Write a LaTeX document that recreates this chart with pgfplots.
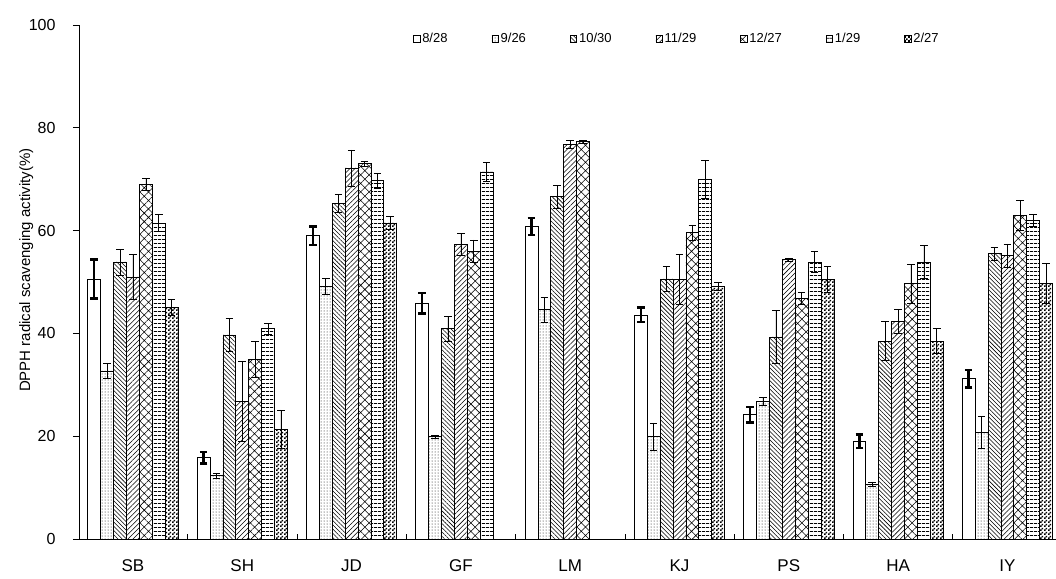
\documentclass[border=0pt]{standalone}
\usepackage{fontspec}
\setmainfont{Liberation Sans}
\usepackage{pgfplots}
\pgfplotsset{compat=1.18}
\usetikzlibrary{patterns,patterns.meta}
\tikzdeclarepattern{
  name=smallcheck,
  type=uncolored,
  bottom left={(0pt,0pt)},
  top right={(4pt,4pt)},
  tile size={(4pt,4pt)},
  code={
    \pgfpathrectangle{\pgfpointorigin}{\pgfpoint{2pt}{2pt}}
    \pgfpathrectangle{\pgfpoint{2pt}{2pt}}{\pgfpoint{2pt}{2pt}}
    \pgfusepath{fill}
  }
}
\pgfplotsset{
  sq/.style={legend image code/.code={\draw[##1,line width=0.6pt] (0pt,-3pt) rectangle (6.5pt,3.5pt);}},
  thinerr/.style={error bars/.cd, y dir=both, y explicit, error mark=|,
     error bar style={line width=0.6pt, black},
     error mark options={line width=0.6pt, mark size=3.8pt, black}},
  bolderr/.style={error bars/.cd, y dir=both, y explicit, error mark=|,
     error bar style={line width=2.4pt, black},
     error mark options={line width=2.4pt, mark size=3.8pt, black}},
}
\begin{document}
\begin{tikzpicture}
\useasboundingbox (0,0) rectangle (1056pt,578pt);
\begin{axis}[
  at={(79pt,39pt)}, anchor=south west,
  scale only axis, width=977pt, height=514pt,
  xmin=-0.494, xmax=8.445, ymin=0, ymax=100,
  axis x line*=bottom, axis y line*=left,
  axis line style={line width=0.8pt, -},
  ybar=0pt, bar width=12.9pt,
  xtick={0,...,8}, xticklabels={SB,SH,JD,GF,LM,KJ,PS,HA,IY},
  major x tick style={draw=none},
  minor xtick={0.5,1.5,...,7.5},
  xtick align=inside, ytick align=outside,
  major tick length=6pt, minor tick length=5pt,
  ytick={0,20,...,100},
  tick style={black, line width=0.6pt},
  /pgf/number format/assume math mode=true,
  yticklabel style={font=\fontsize{16}{18}\selectfont, xshift=-14pt},
  xticklabel style={font=\fontsize{17}{19}\selectfont, yshift=-17pt},
  ylabel={DPPH radical scavenging activity(\%)},
  ylabel style={at={(axis description cs:-0.054,0.523)}, anchor=center, font=\fontsize{15}{17}\selectfont},
  legend columns=7,
  legend style={at={(axis description cs:0.612,0.973)}, anchor=center, draw=none, fill=none,
    font=\fontsize{13}{15}\selectfont,
    /tikz/every even column/.append style={column sep=42pt}},
]
% 8/28
\addplot[sq, draw=black, line width=0.7pt, fill=white, bolderr] coordinates {
(0,50.6) +- (0,3.8) (1,15.8) +- (0,1.1) (2,59.0) +- (0,1.8) (3,45.9) +- (0,2.0) (4,60.8) +- (0,1.6)
(5,43.6) +- (0,1.4) (6,24.2) +- (0,1.5) (7,19.0) +- (0,1.3) (8,31.2) +- (0,1.7)};
% 9/26
\addplot[sq, draw=black, line width=0.7pt, pattern={Dots[distance=3pt,radius=0.5pt]}, thinerr] coordinates {
(0,32.7) +- (0,1.5) (1,12.3) +- (0,0.4) (2,49.2) +- (0,1.5) (3,19.9) +- (0,0.3) (4,44.6) +- (0,2.4)
(5,19.9) +- (0,2.7) (6,26.8) +- (0,0.8) (7,10.7) +- (0,0.4) (8,20.8) +- (0,3.1)};
% 10/30
\addplot[sq, draw=black, line width=0.7pt, pattern={Lines[angle=-45,distance=3pt,line width=0.55pt]}, thinerr] coordinates {
(0,53.9) +- (0,2.5) (1,39.7) +- (0,3.2) (2,65.3) +- (0,1.8) (3,40.9) +- (0,2.4) (4,66.6) +- (0,2.2)
(5,50.6) +- (0,2.5) (6,39.3) +- (0,5.1) (7,38.5) +- (0,3.8) (8,55.5) +- (0,1.2)};
% 11/29
\addplot[sq, draw=black, line width=0.7pt, pattern={Lines[angle=45,distance=3.5pt,line width=0.55pt]}, thinerr] coordinates {
(0,51.0) +- (0,4.3) (1,26.8) +- (0,7.8) (2,72.2) +- (0,3.5) (3,57.3) +- (0,2.1) (4,76.8) +- (0,0.7)
(5,50.5) +- (0,4.9) (6,54.4) +- (0,0.3) (7,42.4) +- (0,2.3) (8,55.1) +- (0,2.3)};
% 12/27
\addplot[sq, draw=black, line width=0.7pt, pattern={Hatch[angle=45,distance=6pt,line width=0.55pt]}, thinerr] coordinates {
(0,69.0) +- (0,1.2) (1,34.9) +- (0,3.5) (2,73.0) +- (0,0.4) (3,56.0) +- (0,2.2) (4,77.3) +- (0,0.3)
(5,59.6) +- (0,1.5) (6,46.8) +- (0,1.1) (7,49.7) +- (0,3.8) (8,62.9) +- (0,2.9)};
% 1/29
\addplot[sq, draw=black, line width=0.7pt, pattern={Lines[angle=0,distance=4pt,line width=0.9pt]}, thinerr] coordinates {
(0,61.5) +- (0,1.7) (1,40.9) +- (0,1.0) (2,69.7) +- (0,1.5) (3,71.4) +- (0,1.8)
(5,70.0) +- (0,3.7) (6,53.9) +- (0,2.1) (7,53.9) +- (0,3.2) (8,62.0) +- (0,1.1)};
% 2/27
\addplot[sq, draw=black, line width=0.7pt, pattern=smallcheck, thinerr] coordinates {
(0,45.1) +- (0,1.5) (1,21.4) +- (0,3.7) (2,61.5) +- (0,1.2)
(5,49.2) +- (0,0.8) (6,50.5) +- (0,2.6) (7,38.5) +- (0,2.4) (8,49.7) +- (0,3.9)};
\legend{8/28,9/26,10/30,11/29,12/27,1/29,2/27}
\end{axis}
\end{tikzpicture}
\end{document}
